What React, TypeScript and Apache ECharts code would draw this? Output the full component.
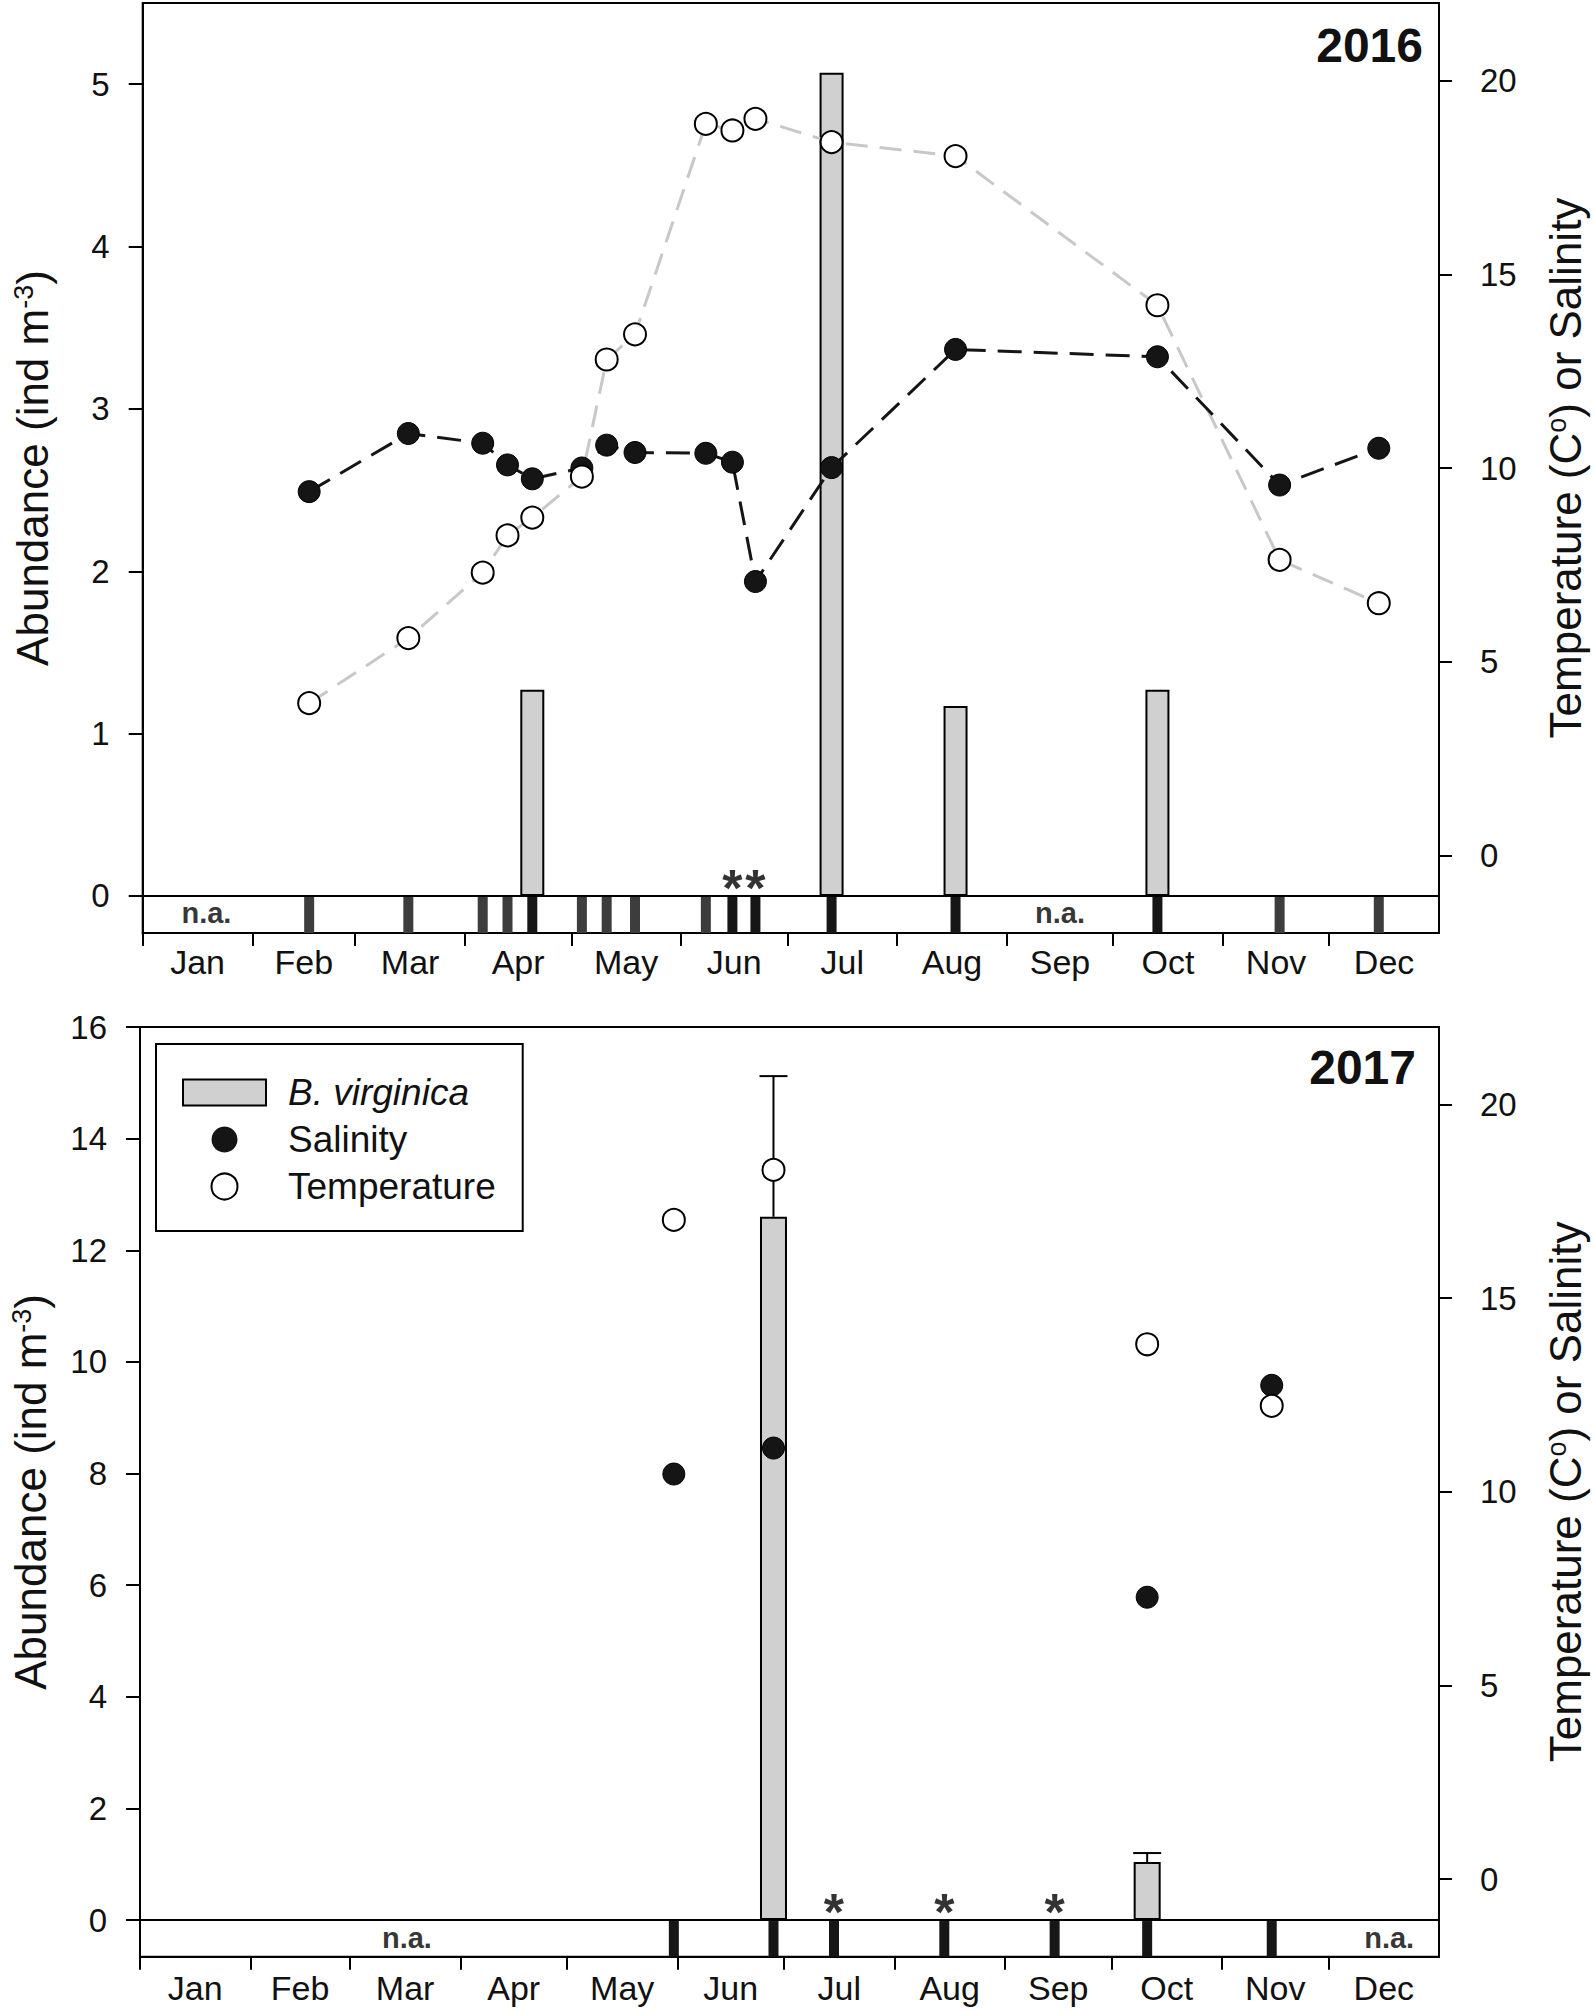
import React, { useEffect, useRef } from 'react';
import * as echarts from 'echarts';

const FONT = '"Liberation Sans", Arial, Helvetica, sans-serif';
const INK = '#111111';

const MONTHS = ['Jan', 'Feb', 'Mar', 'Apr', 'May', 'Jun', 'Jul', 'Aug', 'Sep', 'Oct', 'Nov', 'Dec'];
const monthStarts2016 = [0, 31, 60, 91, 121, 152, 182, 213, 244, 274, 305, 335, 366];
const monthStarts2017 = [0, 31, 59, 90, 120, 151, 181, 212, 243, 273, 304, 334, 365];

// ---- 2016 (day of year) ----
const sampleDays2016 = [47, 75, 96, 103, 110, 124, 131, 139, 159, 166.5, 173, 194.5, 229.5, 286.5, 321, 349];
const sampleDark2016 = [0, 0, 0, 0, 1, 0, 0, 0, 0, 1, 1, 1, 1, 1, 0, 0];
const salinity2016 = [9.39, 10.89, 10.64, 10.08, 9.72, 10.0, 10.59, 10.4, 10.38, 10.15, 7.07, 10.01, 13.06, 12.87, 9.56, 10.51];
const temperature2016 = [3.93, 5.61, 7.3, 8.26, 8.72, 9.78, 12.8, 13.45, 18.88, 18.71, 19.01, 18.41, 18.05, 14.2, 7.63, 6.51];
const barDays2016 = [110, 194.5, 229.5, 286.5];
const abundance2016 = [1.27, 5.07, 1.17, 1.27];
const asteriskDays2016 = [166.5, 173];
const naDays2016 = [18, 259];

// ---- 2017 ----
const sampleDays2017 = [150, 178, 195, 226, 257, 283, 318];
const sampleDark2017 = [1, 1, 1, 1, 1, 1, 1];
const barDays2017 = [178, 283];
const abundance2017 = [12.6, 1.04];
const abundanceUpper2017 = [15.12, 1.2];
const envDays2017 = [150, 178, 283, 318];
const salinity2017 = [10.46, 11.13, 7.28, 12.75];
const temperature2017 = [17.02, 18.31, 13.81, 12.22];
const asteriskDays2017 = [195, 226, 257];
const naDays2017 = [75, 351];

const leftTicks2016 = [0, 1, 2, 3, 4, 5];
const leftTicks2017 = [0, 2, 4, 6, 8, 10, 12, 14, 16];
const rightTicks = [0, 5, 10, 15, 20];

const zip = (a: number[], b: number[]) => a.map((v, i) => [v, b[i]]);
const mids = (s: number[]) => s.slice(0, 12).map((v, i) => (v + s[i + 1]) / 2);

function xAxes(gridIndex: number, starts: number[], labelMargin: number) {
  const m = mids(starts);
  const max = starts[12];
  return [
    {
      type: 'value', gridIndex, min: 0, max,
      axisLine: { show: true, onZero: false, lineStyle: { color: '#000', width: 2 } },
      axisTick: { show: true, customValues: starts.slice(0, 12), length: 13, inside: false, lineStyle: { color: '#000', width: 2 } },
      axisLabel: {
        show: true, customValues: m, margin: labelMargin, fontSize: 34, fontFamily: FONT, color: INK,
        formatter: (v: number) => {
          const i = m.findIndex((x) => Math.abs(x - v) < 0.01);
          return i >= 0 ? MONTHS[i] : '';
        },
      },
      splitLine: { show: false },
    },
  ];
}

function yAxes(gridIndex: number, lmin: number, lmax: number, lticks: number[]) {
  const common = {
    type: 'value', gridIndex,
    axisLine: { show: true, onZero: false, lineStyle: { color: '#000', width: 2 } },
    splitLine: { show: false },
    nameLocation: 'middle',
    nameRotate: 90,
  };
  return [
    {
      ...common, position: 'left', min: lmin, max: lmax,
      axisTick: { show: true, customValues: lticks, length: 14, lineStyle: { color: '#000', width: 2 } },
      axisLabel: { show: true, customValues: lticks, margin: 33, fontSize: 33, fontFamily: FONT, color: INK },
      name: 'Abundance (ind m{sup|-3})',
      nameGap: 88,
      nameTextStyle: {
        fontSize: 44, fontFamily: FONT, color: INK,
        rich: { sup: { fontSize: 27, fontFamily: FONT, color: INK, verticalAlign: 'top' } },
      },
    },
    {
      ...common, position: 'right', min: -2, max: 22,
      axisTick: { show: true, customValues: rightTicks, length: 13, lineStyle: { color: '#000', width: 2 } },
      axisLabel: { show: true, customValues: rightTicks, margin: 41, fontSize: 33, fontFamily: FONT, color: INK },
      name: 'Temperature (C{sup|o}) or Salinity',
      nameGap: 104,
      nameTextStyle: {
        fontSize: 44, fontFamily: FONT, color: INK,
        rich: { sup: { fontSize: 27, fontFamily: FONT, color: INK, verticalAlign: 'top' } },
      },
    },
  ];
}

function stripSeries(xAxisIndex: number, yAxisIndex: number, days: number[], dark: number[]) {
  return {
    type: 'custom', xAxisIndex, yAxisIndex, silent: true, z: 3,
    data: days.map((d, i) => [d, dark[i]]),
    renderItem: (params: any, api: any) => {
      const p = api.coord([api.value(0), 0]);
      const cs = params.coordSys;
      const bottom = cs.y + cs.height;
      return {
        type: 'rect',
        shape: { x: p[0] - 5, y: p[1] + 1, width: 10, height: bottom - p[1] - 1 },
        style: { fill: api.value(1) ? '#161616' : '#3d3d3d' },
      };
    },
  };
}

function barSeries(name: string, xAxisIndex: number, yAxisIndex: number, days: number[], vals: number[], w: number) {
  return {
    name, type: 'bar', xAxisIndex, yAxisIndex, barWidth: w, silent: true, z: 2,
    data: zip(days, vals),
    itemStyle: { color: '#d0d0d0', borderColor: '#000', borderWidth: 2 },
    markLine: {
      silent: true, symbol: 'none', label: { show: false },
      lineStyle: { color: '#000', width: 2, type: 'solid' },
      data: [{ yAxis: 0 }],
    },
  };
}

function lineSeries(xAxisIndex: number, yAxisIndex: number, days: number[], vals: number[], color: string, dash: number[]) {
  return {
    type: 'line', xAxisIndex, yAxisIndex, silent: true, showSymbol: false, symbol: 'none', z: 4,
    data: zip(days, vals),
    lineStyle: { color, width: 3, type: dash },
  };
}

function pointSeries(name: string, xAxisIndex: number, yAxisIndex: number, days: number[], vals: number[], filled: boolean) {
  return {
    name, type: 'scatter', xAxisIndex, yAxisIndex, silent: true, symbolSize: 22, z: filled ? 5 : 6,
    data: zip(days, vals),
    itemStyle: filled
      ? { color: '#151515', borderColor: '#000', borderWidth: 1, opacity: 1 }
      : { color: '#ffffff', borderColor: '#000', borderWidth: 2, opacity: 1 },
  };
}

function textSeries(xAxisIndex: number, yAxisIndex: number, days: number[], y: number, text: string, fontSize: number) {
  return {
    type: 'scatter', xAxisIndex, yAxisIndex, silent: true, symbolSize: 1, z: 7,
    itemStyle: { color: 'transparent' },
    data: days.map((d) => [d, y]),
    label: {
      show: true, position: 'inside', formatter: text,
      fontSize, fontWeight: 'bold', fontFamily: FONT, color: '#000',
    },
  };
}

function errorSeries(xAxisIndex: number, yAxisIndex: number, days: number[], vals: number[], upper: number[]) {
  return {
    type: 'custom', xAxisIndex, yAxisIndex, silent: true, z: 3,
    data: days.map((d, i) => [d, vals[i], upper[i]]),
    renderItem: (_params: any, api: any) => {
      const a = api.coord([api.value(0), api.value(1)]);
      const b = api.coord([api.value(0), api.value(2)]);
      const st = { stroke: '#000', lineWidth: 2 };
      return {
        type: 'group',
        children: [
          { type: 'line', shape: { x1: a[0], y1: a[1], x2: b[0], y2: b[1] }, style: st },
          { type: 'line', shape: { x1: b[0] - 14, y1: b[1], x2: b[0] + 14, y2: b[1] }, style: st },
        ],
      };
    },
  };
}

const option: any = {
  animation: false,
  backgroundColor: '#ffffff',
  textStyle: { fontFamily: FONT },
  title: [
    { text: '2016', right: 172, top: 21, padding: 0, textStyle: { fontSize: 48, fontWeight: 'bold', fontFamily: FONT, color: INK } },
    { text: '2017', right: 179, top: 1043, padding: 0, textStyle: { fontSize: 48, fontWeight: 'bold', fontFamily: FONT, color: INK } },
  ],
  grid: [
    { left: 142.7, top: 3, width: 1300, height: 930, show: true, borderColor: '#000', borderWidth: 2, backgroundColor: 'transparent' },
    { left: 137.5, top: 1027, width: 1303, height: 929.7, show: true, borderColor: '#000', borderWidth: 2, backgroundColor: 'transparent' },
  ],
  legend: {
    show: true, orient: 'vertical', left: 156, top: 1044, selectedMode: false,
    borderColor: '#000', borderWidth: 2, padding: [30, 27, 26, 26], itemGap: 10,
    itemWidth: 83, itemHeight: 26,
    textStyle: { fontSize: 37, fontFamily: FONT, color: INK, padding: [0, 0, 0, 17] },
    data: [
      { name: 'B. virginica', icon: 'rect', itemStyle: { color: '#d0d0d0', borderColor: '#000', borderWidth: 2 }, textStyle: { fontStyle: 'italic' } },
      { name: 'Salinity', icon: 'circle', itemStyle: { color: '#151515', borderWidth: 0 } },
      { name: 'Temperature', icon: 'circle', itemStyle: { color: '#ffffff', borderColor: '#000', borderWidth: 2 } },
    ],
  },
  xAxis: [...xAxes(0, monthStarts2016, 12), ...xAxes(1, monthStarts2017, 14)],
  yAxis: [...yAxes(0, -0.228, 5.5, leftTicks2016), ...yAxes(1, -0.657, 16, leftTicks2017)],
  series: [
    // 2016
    barSeries('B. virginica 2016', 0, 0, barDays2016, abundance2016, 24),
    stripSeries(0, 0, sampleDays2016, sampleDark2016),
    lineSeries(0, 1, sampleDays2016, temperature2016, '#c8c8c8', [22, 12]),
    lineSeries(0, 1, sampleDays2016, salinity2016, '#151515', [24, 12]),
    pointSeries('Salinity 2016', 0, 1, sampleDays2016, salinity2016, true),
    pointSeries('Temperature 2016', 0, 1, sampleDays2016, temperature2016, false),
    textSeries(0, 0, naDays2016, -0.105, 'n.a.', 29),
    textSeries(0, 0, asteriskDays2016, 0.05, '*', 52),
    // 2017
    barSeries('B. virginica', 1, 2, barDays2017, abundance2017, 27),
    errorSeries(1, 2, barDays2017, abundance2017, abundanceUpper2017),
    stripSeries(1, 2, sampleDays2017, sampleDark2017),
    pointSeries('Salinity', 1, 3, envDays2017, salinity2017, true),
    pointSeries('Temperature', 1, 3, envDays2017, temperature2017, false),
    textSeries(1, 2, naDays2017, -0.32, 'n.a.', 29),
    textSeries(1, 2, asteriskDays2017, 0.15, '*', 52),
  ],
};

export default function App() {
  const ref = useRef<HTMLDivElement>(null);
  useEffect(() => {
    if (!ref.current) return;
    const chart = echarts.init(ref.current, null, { renderer: 'svg' });
    chart.setOption(option);
    return () => chart.dispose();
  }, []);
  return (
    <div
      ref={ref}
      style={{ position: 'absolute', left: 0, top: 0, width: 1595, height: 2013, background: '#fff' }}
    />
  );
}
